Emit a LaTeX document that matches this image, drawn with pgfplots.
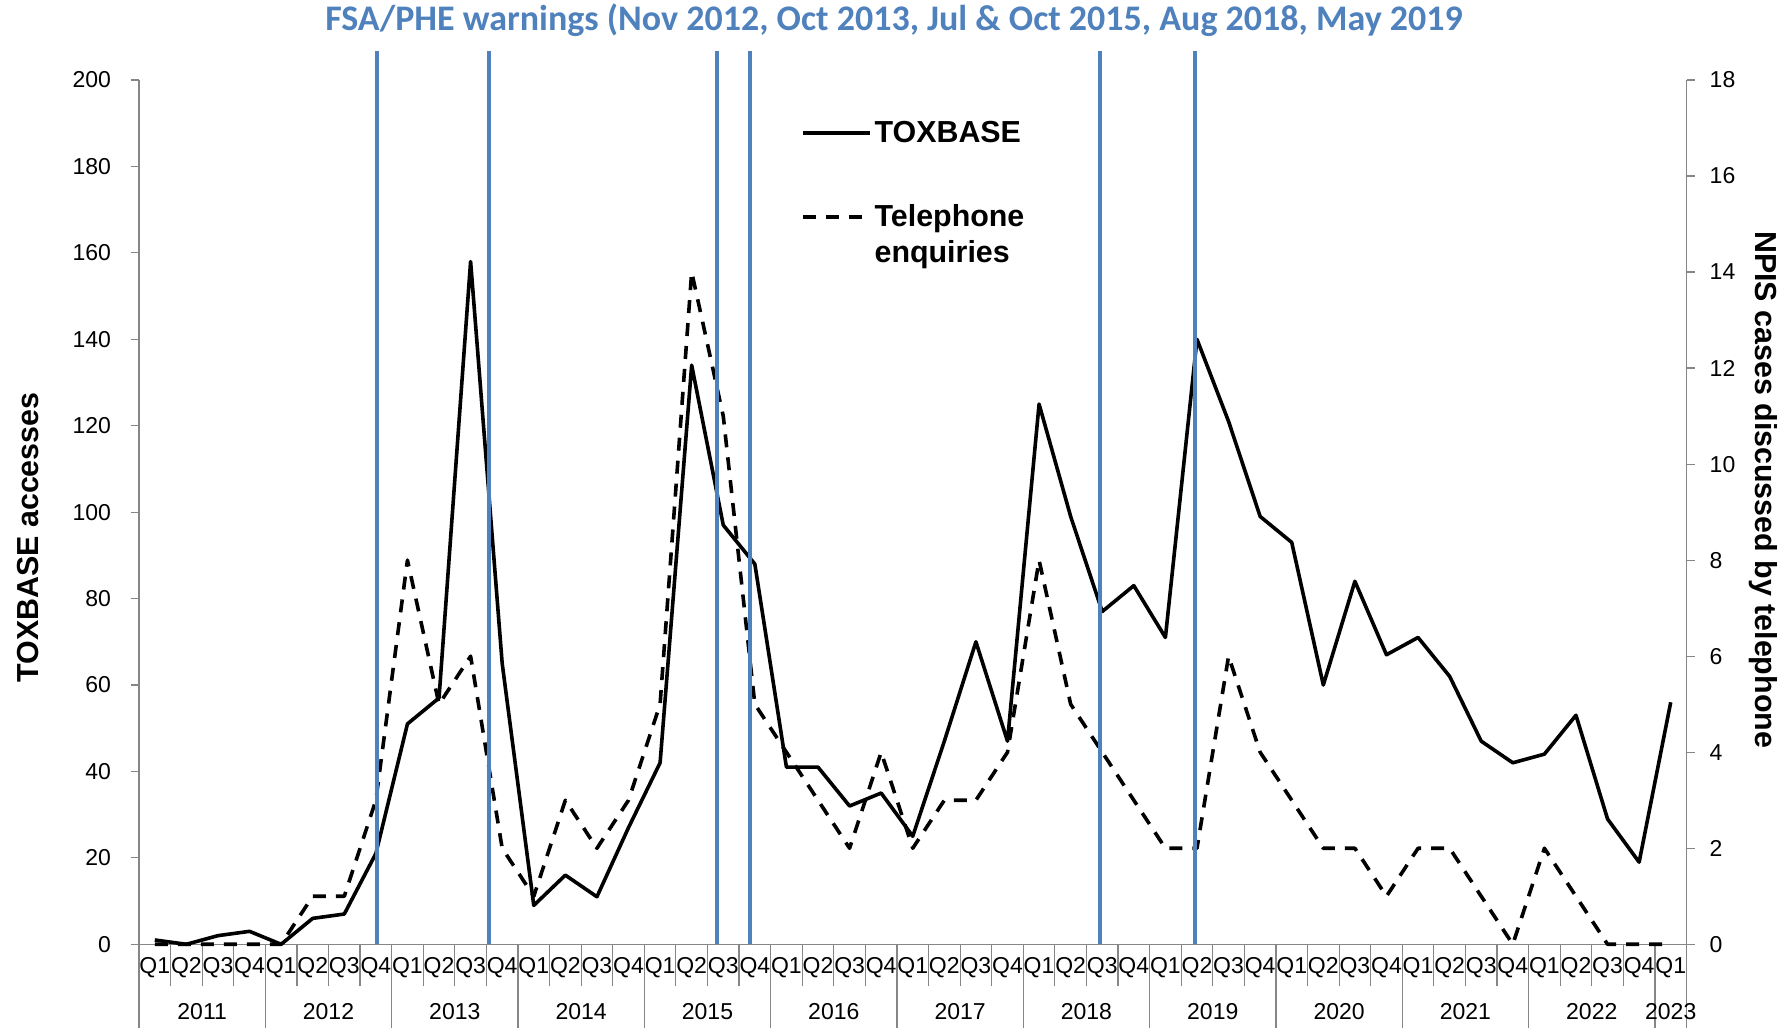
\documentclass[border=0pt]{standalone}
\usepackage{pgfplots}
\pgfplotsset{compat=1.18}
\usepackage{pgfplotstable}
\usepackage{fontspec}
\setmainfont{Liberation Sans}
\newfontfamily\carlito{Carlito}
\definecolor{warnblue}{RGB}{79,129,189}
\definecolor{axisgray}{RGB}{134,134,134}

\pgfplotstableread{
x tox tel
0 1 0
1 0 0
2 2 0
3 3 0
4 0 0
5 6 1
6 7 1
7 21 3
8 51 8
9 57 5
10 158 6
11 65 2
12 9 1
13 16 3
14 11 2
15 27 3
16 42 5
17 134 14
18 97 11
19 88 5
20 41 4
21 41 3
22 32 2
23 35 4
24 25 2
25 47 3
26 70 3
27 47 4
28 125 8
29 99 5
30 77 4
31 83 3
32 71 2
33 140 2
34 121 6
35 99 4
36 93 3
37 60 2
38 84 2
39 67 1
40 71 2
41 62 2
42 47 1
43 42 0
44 44 2
45 53 1
46 29 0
47 19 0
48 56 0
}\datatable

\newcommand{\tickfont}{\fontsize{11.5}{13}\selectfont}

\begin{document}
\begin{tikzpicture}
\useasboundingbox (-69.5pt,-43.85pt) rectangle (823.5pt,472.15pt);
% ---------- years axis (separators + year labels)
\begin{axis}[
  at={(0pt,0pt)}, anchor=south west,
  scale only axis, width=773.75pt, height=432.15pt,
  xmin=-0.5, xmax=48.5, ymin=0, ymax=200,
  axis x line*=bottom, axis y line=none,
  axis line style={draw=axisgray, line width=0.6pt, -},
  tick align=outside, major tick length=4pt, minor tick length=42pt,
  ytick=\empty,
  xtick={1.5,5.5,9.5,13.5,17.5,21.5,25.5,29.5,33.5,37.5,41.5,45.5,48},
  xticklabels={2011,2012,2013,2014,2015,2016,2017,2018,2019,2020,2021,2022,2023},
  major x tick style={draw=none},
  minor xtick={-0.5,3.5,7.5,11.5,15.5,19.5,23.5,27.5,31.5,35.5,39.5,43.5,47.5,48.5},
  minor x tick style={draw=axisgray, line width=0.6pt},
  xticklabel style={font=\tickfont, anchor=center, inner sep=0pt, yshift=-29.5pt},
  clip=false,
]
\end{axis}
% ---------- main axis (TOXBASE)
\begin{axis}[
  at={(0pt,0pt)}, anchor=south west,
  scale only axis, width=773.75pt, height=432.15pt,
  xmin=-0.5, xmax=48.5, ymin=0, ymax=200,
  axis x line*=bottom, axis y line*=left,
  axis line style={draw=axisgray, line width=0.6pt, -},
  tick align=outside, major tick length=4pt, minor tick length=21pt,
  ytick={0,20,...,200},
  ytick style={draw=axisgray, line width=0.6pt},
  yticklabel style={font=\tickfont, anchor=east, inner sep=0pt, xshift=-9.8pt},
  /pgf/number format/assume math mode=true,
  xtick={0,...,48},
  xticklabels={Q1,Q2,Q3,Q4,Q1,Q2,Q3,Q4,Q1,Q2,Q3,Q4,Q1,Q2,Q3,Q4,Q1,Q2,Q3,Q4,Q1,Q2,Q3,Q4,Q1,Q2,Q3,Q4,Q1,Q2,Q3,Q4,Q1,Q2,Q3,Q4,Q1,Q2,Q3,Q4,Q1,Q2,Q3,Q4,Q1,Q2,Q3,Q4,Q1},
  major x tick style={draw=none},
  minor xtick={-0.5,0.5,...,48.5},
  minor x tick style={draw=axisgray, line width=0.6pt},
  xticklabel style={font=\tickfont, anchor=center, inner sep=0pt, yshift=-7.5pt},
  ylabel={TOXBASE accesses},
  ylabel style={at={(axis description cs:-0.0714,0.4706)}, anchor=center, font=\bfseries\fontsize{15.2}{18}\selectfont},
  every axis title shift=0pt,
  title={FSA/PHE warnings (Nov 2012, Oct 2013, Jul \& Oct 2015, Aug 2018, May 2019},
  title style={at={(axis description cs:0.4879,1.0688)}, anchor=center, font=\carlito\bfseries\fontsize{18}{21}\selectfont, text=warnblue},
  clip=false,
]
\addplot[black, line width=1.8pt, line join=round] table[x=x, y=tox] {\datatable};
\end{axis}
% ---------- right axis (telephone)
\begin{axis}[
  at={(0pt,0pt)}, anchor=south west,
  scale only axis, width=773.75pt, height=432.15pt,
  xmin=-0.5, xmax=48.5, ymin=0, ymax=18,
  axis y line*=right, axis x line=none, xtick=\empty,
  axis line style={draw=axisgray, line width=0.6pt, -},
  tick align=outside, major tick length=4pt,
  ytick={0,2,...,18},
  ytick style={draw=axisgray, line width=0.6pt},
  yticklabel style={font=\tickfont, anchor=west, inner sep=0pt, xshift=7.4pt},
  /pgf/number format/assume math mode=true,
  every axis y label/.style={at={(axis description cs:1.0494,0.526)}, anchor=center, rotate=-90, font=\bfseries\fontsize{15.2}{18}\selectfont},
  ylabel={NPIS cases discussed by telephone},
  legend style={draw=none, fill=none, inner sep=0pt, outer sep=0pt,
    at={(axis description cs:0.4278,0.956)}, anchor=north west,
    font=\bfseries\fontsize{15.2}{18.2}\selectfont,
    cells={anchor=west, align=left}, row sep=26.6pt,
    nodes={inner sep=1.5pt}},
  clip=false,
]
\addlegendimage{legend image code/.code={\draw[black, line width=1.8pt] (0pt,0pt) -- (33.5pt,0pt);}}
\addlegendentry{TOXBASE}
\addplot[black, line width=1.8pt, line join=round, dash pattern=on 6.5pt off 5pt,
  legend image code/.code={\draw[black, line width=1.8pt, dash pattern=on 6.5pt off 5pt] (0pt,9.1pt) -- (33.5pt,9.1pt);}]
  table[x=x, y=tel] {\datatable};
\addlegendentry{Telephone\\enquiries}
\draw[warnblue, line width=1.9pt] (axis cs:7.03,0) -- (axis cs:7.03,18.6);
\draw[warnblue, line width=1.9pt] (axis cs:10.59,0) -- (axis cs:10.59,18.6);
\draw[warnblue, line width=1.9pt] (axis cs:17.79,0) -- (axis cs:17.79,18.6);
\draw[warnblue, line width=1.9pt] (axis cs:18.85,0) -- (axis cs:18.85,18.6);
\draw[warnblue, line width=1.9pt] (axis cs:29.93,0) -- (axis cs:29.93,18.6);
\draw[warnblue, line width=1.9pt] (axis cs:32.94,0) -- (axis cs:32.94,18.6);
\end{axis}
\end{tikzpicture}
\end{document}
